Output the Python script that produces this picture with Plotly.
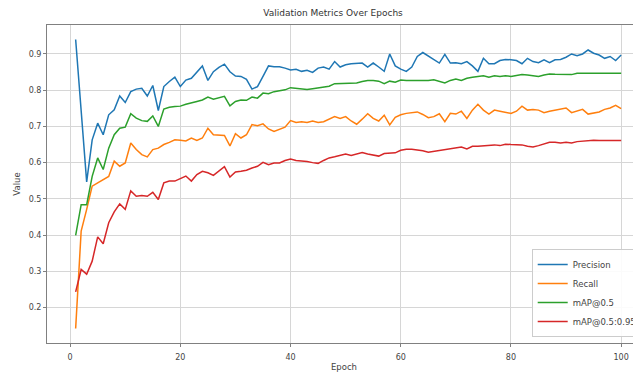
import plotly.graph_objects as go

epochs = list(range(1, 101))

precision = [
    0.940, 0.745, 0.547, 0.663, 0.709, 0.677, 0.732, 0.746, 0.784, 0.766,
    0.796, 0.803, 0.805, 0.784, 0.813, 0.744, 0.810, 0.824, 0.836, 0.810,
    0.828, 0.833, 0.851, 0.867, 0.827, 0.851, 0.863, 0.872, 0.851, 0.839,
    0.838, 0.830, 0.803, 0.810, 0.838, 0.867, 0.865, 0.865, 0.861, 0.856,
    0.858, 0.852, 0.855, 0.849, 0.861, 0.864, 0.858, 0.879, 0.864, 0.870,
    0.873, 0.873, 0.875, 0.864, 0.875, 0.864, 0.852, 0.900, 0.867, 0.858,
    0.852, 0.864, 0.893, 0.904, 0.895, 0.884, 0.875, 0.899, 0.875, 0.876,
    0.873, 0.879, 0.867, 0.852, 0.888, 0.873, 0.873, 0.882, 0.885, 0.884,
    0.882, 0.873, 0.888, 0.879, 0.876, 0.884, 0.876, 0.884, 0.885, 0.891,
    0.900, 0.895, 0.900, 0.911, 0.902, 0.897, 0.888, 0.893, 0.882, 0.897,
]

recall = [
    0.142, 0.411, 0.471, 0.535, 0.544, 0.553, 0.562, 0.604, 0.590, 0.599,
    0.654, 0.636, 0.622, 0.616, 0.636, 0.640, 0.650, 0.656, 0.663, 0.662,
    0.660, 0.668, 0.661, 0.668, 0.695, 0.677, 0.677, 0.675, 0.646, 0.680,
    0.668, 0.677, 0.705, 0.702, 0.707, 0.693, 0.686, 0.693, 0.698, 0.716,
    0.711, 0.713, 0.711, 0.715, 0.711, 0.713, 0.720, 0.727, 0.722, 0.727,
    0.715, 0.706, 0.720, 0.735, 0.722, 0.715, 0.731, 0.704, 0.725, 0.732,
    0.736, 0.738, 0.740, 0.733, 0.724, 0.727, 0.735, 0.713, 0.736, 0.734,
    0.742, 0.722, 0.745, 0.761, 0.745, 0.734, 0.745, 0.742, 0.738, 0.736,
    0.742, 0.756, 0.745, 0.747, 0.745, 0.738, 0.742, 0.745, 0.747, 0.751,
    0.738, 0.742, 0.747, 0.734, 0.738, 0.740, 0.747, 0.751, 0.758, 0.749,
]

map50 = [
    0.399, 0.484, 0.484, 0.562, 0.613, 0.581, 0.640, 0.677, 0.695, 0.698,
    0.735, 0.723, 0.716, 0.714, 0.729, 0.700, 0.748, 0.753, 0.755, 0.756,
    0.761, 0.766, 0.769, 0.773, 0.781, 0.775, 0.778, 0.783, 0.757, 0.769,
    0.773, 0.772, 0.781, 0.778, 0.792, 0.790, 0.796, 0.798, 0.801, 0.807,
    0.805, 0.802, 0.802, 0.804, 0.806, 0.808, 0.811, 0.818, 0.818, 0.820,
    0.818, 0.820, 0.824, 0.827, 0.827, 0.825, 0.818, 0.825, 0.822, 0.828,
    0.827, 0.827, 0.826, 0.825, 0.827, 0.829, 0.825, 0.820, 0.827, 0.831,
    0.827, 0.833, 0.836, 0.838, 0.840, 0.836, 0.840, 0.838, 0.840, 0.838,
    0.840, 0.843, 0.842, 0.840, 0.838, 0.842, 0.845, 0.844, 0.843, 0.843,
    0.843, 0.847, 0.847, 0.847, 0.847, 0.847, 0.847, 0.847, 0.847, 0.847,
]

map50_95 = [
    0.243, 0.305, 0.292, 0.328, 0.395, 0.376, 0.434, 0.464, 0.486, 0.471,
    0.522, 0.507, 0.509, 0.507, 0.518, 0.498, 0.544, 0.549, 0.549, 0.555,
    0.563, 0.549, 0.567, 0.576, 0.572, 0.565, 0.576, 0.589, 0.560, 0.574,
    0.576, 0.579, 0.585, 0.590, 0.601, 0.594, 0.599, 0.599, 0.606, 0.610,
    0.606, 0.605, 0.603, 0.600, 0.598, 0.606, 0.613, 0.616, 0.620, 0.624,
    0.620, 0.625, 0.628, 0.624, 0.622, 0.618, 0.625, 0.625, 0.627, 0.634,
    0.637, 0.637, 0.636, 0.633, 0.629, 0.631, 0.634, 0.637, 0.639, 0.641,
    0.643, 0.638, 0.645, 0.645, 0.646, 0.648, 0.649, 0.647, 0.651, 0.650,
    0.649, 0.649, 0.645, 0.643, 0.647, 0.651, 0.656, 0.656, 0.654, 0.656,
    0.654, 0.658, 0.660, 0.662, 0.662, 0.661, 0.660, 0.661, 0.661, 0.661,
]

series_names = ["Precision", "Recall", "mAP@0.5", "mAP@0.5:0.95"]
series_values = [precision, recall, map50, map50_95]
colors = ["#1f77b4", "#ff7f0e", "#2ca02c", "#d62728"]

x_ticks = [0, 20, 40, 60, 80, 100]
y_ticks = [0.2, 0.3, 0.4, 0.5, 0.6, 0.7, 0.8, 0.9]

FONT = "DejaVu Sans"

fig = go.Figure()
for name, vals, col in zip(series_names, series_values, colors):
    fig.add_trace(go.Scatter(x=epochs, y=vals, mode="lines", name=name,
                             line=dict(color=col, width=1.5)))

axis_common = dict(
    showgrid=True, gridcolor="#d6d6d6", gridwidth=1,
    showline=True, linecolor="#808080", linewidth=1,
    ticks="outside", ticklen=3, tickcolor="#808080",
    zeroline=False,
    tickfont=dict(family=FONT, size=8, color="#444"),
)

# page body has an 8px margin, so the figure is sized/placed accordingly
fig.update_layout(
    width=633, height=370,
    margin=dict(l=39, r=0, t=17, b=35, autoexpand=False),
    paper_bgcolor="white", plot_bgcolor="white",
    font=dict(family=FONT, size=8, color="#444"),
    title=dict(text="Validation Metrics Over Epochs", x=325 / 633, xref="container",
               xanchor="center", y=1 - 5 / 370, yref="container", yanchor="middle",
               font=dict(family=FONT, size=9, color="#333")),
    xaxis=dict(range=[-4.2, 103.6], tickvals=x_ticks, mirror=True, ticklabelstandoff=3,
               title=dict(text="Epoch", standoff=3, font=dict(family=FONT, size=8.5, color="#444")),
               **axis_common),
    yaxis=dict(range=[0.102, 0.980], tickvals=y_ticks, tickformat=".1f",
               title=dict(text="Value", standoff=6, font=dict(family=FONT, size=8.5, color="#444")),
               **axis_common),
    legend=dict(x=0.816, xanchor="left", y=0.019, yanchor="bottom",
                bgcolor="rgba(255,255,255,0.9)", bordercolor="#cccccc", borderwidth=1,
                font=dict(family=FONT, size=8.5, color="#444"), itemwidth=30,
                tracegroupgap=0),
    showlegend=True,
)

fig.write_html("out.html")
